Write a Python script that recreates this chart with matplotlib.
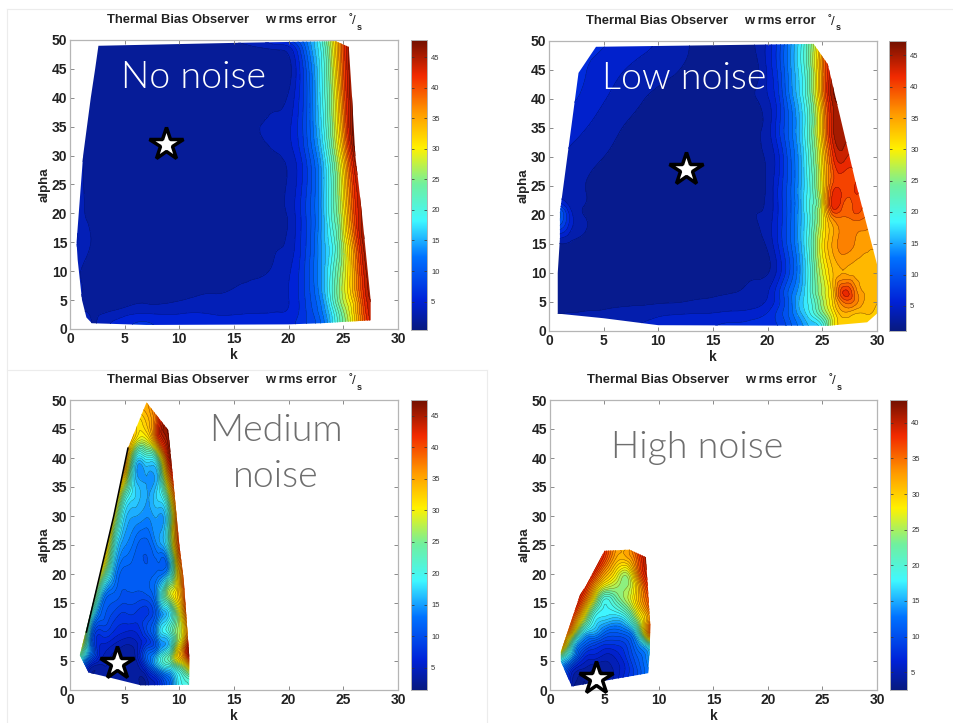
import numpy as np
import matplotlib
matplotlib.use("Agg")
import matplotlib.pyplot as plt
import matplotlib.tri as mtri
from matplotlib.colors import LinearSegmentedColormap
from matplotlib.lines import Line2D
from matplotlib.patches import Polygon

W, H = 954, 723
plt.rcParams["font.family"] = ["Liberation Sans", "DejaVu Sans"]

# jet as it looks in the screenshot, a bit washed out
jet_pos = [0, 0.1, 0.25, 0.375, 0.5, 0.625, 0.75, 0.875, 1]
jet_col = ["#081a80", "#0022d8", "#0072ff", "#40f8ff", "#70f0a0", "#fff200", "#ff9800", "#f22a00", "#701000"]
shot_jet = LinearSegmentedColormap.from_list("shot_jet", list(zip(jet_pos, jet_col)))

# no noise
k1 = [0, 1, 2, 4, 7, 10, 13, 16, 18, 19, 20, 21, 22, 23, 24, 25, 26, 27, 28]
a1 = [0, 1, 3, 5, 10, 15, 20, 30, 40, 48, 50]
z1 = [
    [6.0, 5.0, 2.8, 4.6, 6.0, 5.0, 5.0, 5.0, 5.0, 5.0, 5.0, 6.5, 8.0, 11, 17, 24, 31, 40, 46],
    [6.0, 5.0, 2.6, 4.5, 6.0, 5.0, 5.0, 5.0, 5.0, 5.0, 5.0, 6.5, 8.0, 11, 17, 24, 31, 40, 46],
    [3.0, 2.7, 2.4, 2.8, 3.8, 3.9, 3.9, 4.0, 4.1, 4.2, 4.4, 6.0, 8.5, 12, 18, 25, 32, 41, 46],
    [3.0, 2.5, 2.3, 2.3, 2.4, 2.55, 2.9, 3.2, 3.6, 3.8, 4.2, 6.0, 9.0, 13, 20, 27, 33, 42, 46],
    [3.4, 2.6, 2.2, 2.1, 2.1, 2.1, 2.2, 2.35, 2.55, 3.1, 4.0, 6.0, 9.5, 14, 20, 27, 35, 44, 47],
    [5.0, 3.8, 2.5, 2.1, 2.0, 2.0, 2.0, 2.0, 2.2, 2.5, 3.0, 5.5, 9.0, 14, 19, 27, 37, 46, 47],
    [4.5, 3.0, 2.2, 2.0, 2.0, 2.0, 2.0, 2.0, 2.0, 2.2, 2.9, 5.5, 9.0, 14, 21, 29, 40, 46, 47],
    [3.5, 2.7, 2.3, 2.0, 2.0, 2.0, 2.0, 2.0, 2.1, 2.5, 3.3, 5.5, 9.5, 15, 23, 33, 45, 48, 48],
    [3.0, 2.7, 2.5, 2.2, 2.0, 2.0, 2.0, 2.0, 2.0, 2.1, 2.9, 6.0, 11, 18, 26, 38, 47, 48, 48],
    [3.0, 2.7, 2.4, 2.1, 2.0, 2.0, 2.0, 2.0, 2.1, 2.3, 3.0, 7.0, 13, 19, 28, 40, 48, 48, 48],
    [3.0, 2.7, 2.4, 2.2, 2.1, 2.1, 2.2, 3.0, 5.0, 6.0, 7.0, 10, 14, 20, 29, 40, 48, 48, 48],
]
hull_k1 = [0.6, 0.8, 1.2, 1.9, 2.3, 2.6, 15, 24.3, 25.5, 25.8, 26.1, 26.7, 27.5, 27.5, 23, 20, 7, 2, 1.5, 1.1, 0.7]
hull_a1 = [15, 20, 30, 40, 45, 49, 49.5, 49.8, 48.8, 40, 30, 20, 5, 1.5, 1, 0.8, 0.7, 1, 2, 5, 12]

# low noise
k2 = [0, 1, 2, 3, 5, 8, 11, 14, 17, 19, 20, 21, 22, 23, 24, 25, 26, 27, 28, 29, 30]
a2 = [0, 1, 3, 5, 7, 10, 15, 20, 22, 25, 30, 35, 40, 45, 50]
z2 = [
    [4.0, 4.0, 4.0, 4.0, 4.0, 4.2, 4.8, 5.5, 6.0, 6.5, 7.0, 7.5, 10, 13, 16, 19, 29, 32, 32, 32, 31],
    [4.0, 4.0, 4.0, 4.0, 4.0, 4.2, 4.8, 5.5, 6.0, 6.5, 7.0, 7.5, 10, 13, 16, 19, 29, 32, 32, 32, 31],
    [2.6, 2.6, 2.7, 2.8, 3.0, 3.5, 4.0, 4.2, 4.6, 5.0, 6.0, 8.0, 11, 15, 19, 24, 30, 34, 33, 33, 32],
    [2.0, 2.0, 2.0, 2.1, 2.2, 2.3, 2.5, 2.8, 3.2, 3.7, 4.5, 7.0, 11, 16, 20, 26, 32, 38, 37, 34, 33],
    [2.0, 2.0, 2.0, 2.0, 2.1, 2.2, 2.2, 2.3, 2.5, 3.2, 4.0, 7.0, 11, 15, 21, 27, 33, 41, 37, 34, 33],
    [2.1, 2.1, 2.1, 2.1, 2.1, 2.1, 2.1, 2.1, 2.1, 2.1, 2.5, 5.0, 9.0, 14, 21, 28, 33, 34.5, 34, 34, 34],
    [3.0, 2.5, 2.3, 2.0, 2.0, 2.0, 2.0, 2.0, 2.0, 2.1, 3.0, 6.0, 10, 15, 22, 30, 35, 37, 36, 35, 35],
    [12, 11, 5.0, 2.8, 2.0, 2.0, 2.0, 2.0, 2.0, 2.6, 3.2, 6.0, 10, 15, 21, 29, 38, 38, 39, 38, 38],
    [6.0, 6.0, 3.5, 2.8, 2.0, 2.0, 2.0, 2.0, 2.0, 2.4, 3.0, 6.0, 10, 15, 21, 29, 42, 39, 40, 39, 39],
    [3.5, 3.2, 3.0, 2.7, 2.0, 2.0, 2.0, 2.0, 2.0, 2.3, 2.9, 6.0, 10, 15, 21, 30, 40, 40, 41, 40, 40],
    [4.5, 4.2, 3.8, 3.4, 2.6, 2.0, 2.0, 2.0, 2.0, 2.3, 2.9, 5.5, 10, 15, 22, 31, 41, 43, 42, 42, 42],
    [5.0, 5.0, 4.8, 4.4, 3.4, 2.2, 2.0, 2.0, 2.0, 2.3, 3.5, 7.0, 11, 16, 23, 33, 44, 45, 45, 45, 45],
    [6.0, 6.0, 6.0, 5.5, 4.3, 2.9, 2.0, 2.0, 2.0, 2.6, 4.0, 7.0, 12, 17, 24, 35, 45, 46, 46, 46, 46],
    [7.0, 7.0, 7.0, 6.2, 5.0, 3.8, 2.9, 2.2, 2.0, 2.3, 4.5, 8.0, 13, 18, 25, 36, 45, 46, 46, 46, 46],
    [7.0, 7.0, 7.0, 7.0, 6.0, 5.0, 3.5, 2.4, 2.2, 2.8, 4.5, 8.0, 13, 18, 25, 34, 45, 46, 46, 46, 46],
]
hull_k2 = [0.8, 0.8, 1.0, 1.0, 2.7, 4.3, 24.2, 25.5, 26, 28, 30, 30, 29.1, 25.5, 10, 5]
hull_a2 = [3, 10, 16, 20.5, 44.5, 49, 49.5, 46, 42, 26, 11.5, 3, 1.5, 0.9, 1, 2.2]

# medium noise
k3 = [0, 1, 2, 3, 4, 5, 6, 7, 8, 9, 10, 11]
a3 = [0, 2, 4, 6, 8, 10, 13, 16, 20, 25, 30, 35, 40, 43, 46, 50]
z3 = [
    [3, 3, 3, 3, 3, 3, 3, 3.5, 7, 12, 19, 22],
    [3, 3, 3, 3, 3, 3, 3, 3.5, 7, 12, 19, 22],
    [15, 12, 4, 3.5, 3, 3, 3, 8, 15, 19, 24, 33],
    [30, 22, 11, 5, 3.5, 3, 4, 11, 16, 22, 33, 45],
    [35, 30, 11, 6, 5, 4, 4.5, 7.5, 12, 16, 29, 45],
    [36, 35, 12, 8, 7, 6, 6, 9, 15, 20, 27, 40],
    [42, 40, 20, 11, 9, 8, 8, 8, 12, 17, 28, 45],
    [44, 42, 30, 14, 11, 10, 10, 10, 15, 26, 33, 48],
    [46, 44, 38, 26, 15, 11, 11, 11, 12, 16, 33, 48],
    [47, 46, 44, 38, 21, 14, 12, 11, 14, 20, 40, 48],
    [47, 47, 46, 45, 30, 17, 15, 14, 15, 20, 42, 48],
    [48, 48, 47, 46, 40, 26, 17, 15, 17, 30, 45, 48],
    [48, 48, 48, 48, 46, 38, 19, 19, 23, 42, 47, 48],
    [48, 48, 48, 48, 44, 38, 30, 29, 38, 46, 48, 48],
    [48, 48, 48, 48, 46, 40, 32, 33, 40, 47, 48, 48],
    [48, 48, 48, 48, 47, 42, 38, 35, 42, 48, 48, 48],
]
hull_k3 = [0.9, 2.75, 4.0, 5.3, 7.0, 9.0, 9.6, 10.0, 10.4, 10.9, 10.9, 6.5, 3.5, 1.7]
hull_a3 = [6, 20, 30, 41.7, 49.6, 44.8, 33, 25, 19, 6, 0.9, 0.8, 2.2, 3]
# the contour lines pile up to solid black along this edge
edge_k3 = [1.5, 2.75, 4.0, 5.3]
edge_a3 = [10, 20, 30, 41.7]

# high noise
k4 = [0, 1, 2, 3, 4, 5, 6, 7, 8, 9, 10]
a4 = [0, 2, 4, 6, 8, 10, 12, 14, 16, 18, 20, 22, 25]
z4 = [
    [12, 12, 4, 4, 3, 4, 6, 8, 11, 14, 14],
    [15, 12, 5, 3.5, 3, 3.5, 5, 7.5, 10, 13, 14],
    [17, 14, 8, 5, 4, 4, 5, 7, 10, 13, 16],
    [30, 22, 15, 8, 6.5, 5.5, 6, 8, 11, 14, 22],
    [40, 35, 20, 12, 9.5, 8, 8, 9, 13, 20, 30],
    [42, 38, 30, 18, 15, 12, 11, 12, 18, 33, 42],
    [43, 42, 36, 26, 18, 16, 15, 17, 24, 32, 42],
    [43, 43, 40, 32, 22, 18, 19, 22, 28, 34, 42],
    [43, 43, 42, 37, 28, 20, 22, 25, 30, 36, 42],
    [43, 43, 43, 40, 33, 27, 25, 24, 30, 38, 43],
    [43, 43, 43, 42, 38, 32, 28, 25, 33, 40, 43],
    [43, 43, 43, 43, 41, 36, 31, 30, 35, 41, 43],
    [43, 43, 43, 43, 43, 38, 33, 31, 37, 42, 43],
]
hull_k4 = [1.0, 1.0, 2.75, 3.3, 5.0, 7.3, 8.8, 9.2, 9.15, 9.0, 2.0]
hull_a4 = [4.9, 6.6, 16.4, 18, 24, 24.2, 22.9, 11.2, 6.6, 2.9, 0.6]

panel_names = ["No noise", "Low noise", "Medium\nnoise", "High noise"]
star_k = [8.8, 12.5, 4.3, 4.2]
star_a = [32, 28, 4.6, 2.1]
cbar_lo = [0.35, 1.0, 1.5, 2.5]
cbar_hi = [47.8, 47.3, 47.5, 43.2]
level_lo = [1.0, 1.0, 1.5, 2.5]
level_n = [30, 30, 42, 40]
cbar_ticks = [[5, 10, 15, 20, 25, 30, 35, 40, 45]] * 3 + [[5, 10, 15, 20, 25, 30, 35, 40]]
k_ticks = [0, 5, 10, 15, 20, 25, 30]
alpha_ticks = [0, 5, 10, 15, 20, 25, 30, 35, 40, 45, 50]

# pixel boxes, left right top bottom
ax_box = [(70, 398, 40, 329), (549, 877, 41, 331), (70, 398, 400, 690), (550, 877, 400, 690)]
cb_box = [(411, 427, 40, 330), (889, 906, 41, 331), (411, 427, 400, 690), (890, 907, 400, 690)]
text_pos = [(194, 78), (684, 79), (276, 454), (697, 448)]
text_col = ["white", "white", "#6e6e6e", "#6e6e6e"]
grids = [(k1, a1, z1, hull_k1, hull_a1), (k2, a2, z2, hull_k2, hull_a2),
         (k3, a3, z3, hull_k3, hull_a3), (k4, a4, z4, hull_k4, hull_a4)]


def make_axes(fig, box):
    l, r, t, b = box
    return fig.add_axes([l / W, 1 - b / H, (r - l) / W, (b - t) / H])


fig = plt.figure(figsize=(W / 100, H / 100), dpi=100)

# faint edges of the pasted screenshots
for x0, y0, x1, y1 in [(7, 9, 954, 9), (7, 9, 7, 723), (7, 370, 487, 370), (487, 370, 487, 723)]:
    fig.add_artist(Line2D([x0 / W, x1 / W], [1 - y0 / H, 1 - y1 / H], color="#ececec", lw=0.8))

for i in range(4):
    k, a, z, hull_k, hull_a = grids[i]
    ax = make_axes(fig, ax_box[i])
    kk, aa = np.meshgrid(k, a)
    tri = mtri.Triangulation(kk.ravel(), aa.ravel())
    refiner = mtri.UniformTriRefiner(tri)
    tri_f, z_f = refiner.refine_field(np.array(z, dtype=float).ravel(), subdiv=3)
    lo, hi = cbar_lo[i], cbar_hi[i]
    levels = np.linspace(level_lo[i], hi, level_n[i])
    # the cubic refiner undershoots next to steep cells
    z_f = np.maximum(z_f, levels[0] + 0.2)
    cf = ax.tricontourf(tri_f, z_f, levels=levels, cmap=shot_jet, vmin=lo, vmax=hi, extend="both")
    cl = ax.tricontour(tri_f, z_f, levels=levels, colors="k", linewidths=0.3, alpha=0.55)
    clip = Polygon(np.column_stack([hull_k, hull_a]), closed=True, transform=ax.transData,
                   fc="none", ec="none")
    ax.add_patch(clip)
    cf.set_clip_path(clip)
    cl.set_clip_path(clip)
    if i == 2:
        ax.plot(edge_k3, edge_a3, color="black", lw=1.1, zorder=4)

    ax.plot([star_k[i]], [star_a[i]], marker="*", ms=25, mfc="white", mec="black", mew=2.5,
            clip_on=False, zorder=5)
    ax.set_xlim(0, 30)
    ax.set_ylim(0, 50)
    ax.set_xticks(k_ticks)
    ax.set_yticks(alpha_ticks)
    ax.tick_params(direction="in", length=3, width=0.6, color="#777777", top=True, right=True,
                   labelsize=10, pad=2, labelcolor="#222222")
    for lab in ax.get_xticklabels() + ax.get_yticklabels():
        lab.set_fontweight("bold")
    for s in ax.spines.values():
        s.set_color("#b5b5b5")
        s.set_linewidth(0.9)
    ax.set_xlabel("k", fontsize=10, fontweight="bold", labelpad=1.5, color="#222222")
    ax.set_ylabel("alpha", fontsize=9.5, fontweight="bold", labelpad=1, color="#222222")

    # title in pieces, the unit has a raised degree sign and a low s
    l, r, t, b = ax_box[i]
    ty = t - 20
    fig.text((l + 37) / W, 1 - ty / H, "Thermal Bias Observer", fontsize=9.4, fontweight="bold",
             va="center", color="#222222")
    fig.text((l + 195) / W, 1 - ty / H, "w rms error", fontsize=9.4, fontweight="bold",
             va="center", color="#222222")
    fig.text((l + 279) / W, 1 - (ty - 3) / H, "°", fontsize=6.5, fontweight="bold", va="center",
             color="#222222")
    fig.text((l + 282) / W, 1 - (ty + 1) / H, "/", fontsize=9.5, va="center", color="#222222")
    fig.text((l + 287) / W, 1 - (ty + 7) / H, "s", fontsize=6.5, fontweight="bold", va="center",
             color="#222222")

    fig.text(text_pos[i][0] / W, 1 - text_pos[i][1] / H, panel_names[i], family=["Lato", "DejaVu Sans"],
             fontweight=300, fontsize=27, color=text_col[i], ha="center", va="center",
             linespacing=1.42, zorder=10)

    cax = make_axes(fig, cb_box[i])
    grad = np.linspace(0, 1, 256).reshape(-1, 1)
    cax.imshow(grad, cmap=shot_jet, origin="lower", aspect="auto", extent=(0, 1, lo, hi))
    cax.set_xticks([])
    cax.set_yticks(cbar_ticks[i])
    cax.tick_params(direction="in", length=2.5, width=0.5, color="#333333", left=True, right=True,
                    labelleft=False, labelright=True, labelsize=5.5, pad=3, labelcolor="#333333")
    for s in cax.spines.values():
        s.set_color("#b5b5b5")
        s.set_linewidth(0.7)

fig.savefig("out.png", dpi=100)
